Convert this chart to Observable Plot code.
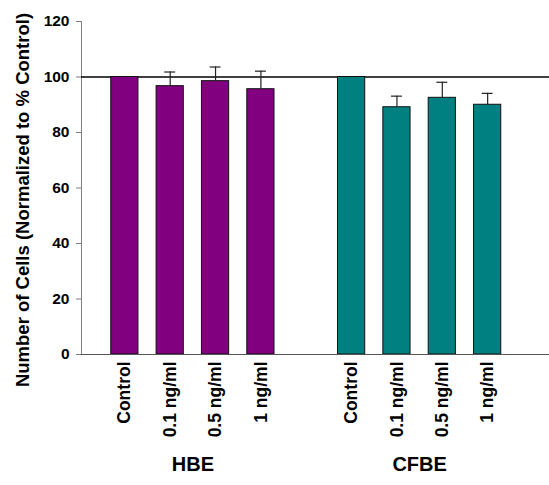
<!DOCTYPE html>
<html>
<head>
<meta charset="utf-8">
<script src="https://cdn.jsdelivr.net/npm/d3@7"></script>
<script src="https://cdn.jsdelivr.net/npm/@observablehq/plot@0.6"></script>
<style>
  html, body { margin: 0; padding: 0; background: #fff; }
</style>
</head>
<body>
<div id="chart"></div>
<script>
// Cell lines and treatment doses
const cellLines = ["HBE", "CFBE"];
const doses = ["Control", "0.1 ng/ml", "0.5 ng/ml", "1 ng/ml"];

// Cell counts, normalized to % of control, with upward error (SD)
const hbeMeans = [100, 96.7, 98.5, 95.6];
const hbeErrors = [0, 5.1, 5.1, 6.5];
const cfbeMeans = [100, 89.1, 92.5, 90.0];
const cfbeErrors = [0, 4.0, 5.6, 4.1];

const yTicks = [0, 20, 40, 60, 80, 100, 120];
const yLabel = "Number of Cells (Normalized to % Control)";
const lineColors = {HBE: "#800080", CFBE: "#008080"};

// One row per bar; each cell line occupies its own group of slots with one empty slot between
const seriesMeans = [hbeMeans, cfbeMeans];
const seriesErrors = [hbeErrors, cfbeErrors];
const rows = cellLines.flatMap((line, g) =>
  doses.map((dose, i) => ({
    line,
    dose,
    pos: g * (doses.length + 1) + i,
    mean: seriesMeans[g][i],
    err: seriesErrors[g][i]
  }))
);
const groups = cellLines.map(line => ({
  line,
  center: d3.mean(rows.filter(r => r.line === line), r => r.pos)
}));
const labelAt = new Map(rows.map(r => [r.pos, r.dose]));

const barHalf = 0.3;
const capHalf = 0.12;
const font = "'Liberation Sans', Arial, sans-serif";

const chart = Plot.plot({
  width: 549,
  height: 485,
  marginLeft: 81,
  marginRight: 0,
  marginTop: 21,
  marginBottom: 131,
  style: {fontFamily: font, background: "#fff", color: "#000"},
  x: {type: "linear", domain: [-1, 9], range: [79, 532.5]},
  y: {domain: [0, 120], range: [354, 21]},
  marks: [
    Plot.frame({anchor: "left", stroke: "#808080"}),
    Plot.ruleY([100], {stroke: "#000", strokeWidth: 1.3}),
    Plot.rectY(rows, {
      x1: d => d.pos - barHalf,
      x2: d => d.pos + barHalf,
      y1: 0,
      y2: "mean",
      fill: d => lineColors[d.line],
      stroke: "#111",
      strokeWidth: 1
    }),
    Plot.ruleX(rows.filter(d => d.err > 0), {
      x: "pos",
      y1: "mean",
      y2: d => d.mean + d.err,
      stroke: "#222",
      strokeWidth: 1.2
    }),
    Plot.ruleY(rows.filter(d => d.err > 0), {
      y: d => d.mean + d.err,
      x1: d => d.pos - capHalf,
      x2: d => d.pos + capHalf,
      stroke: "#222",
      strokeWidth: 1.2
    }),
    Plot.ruleY([0], {stroke: "#555", strokeWidth: 1.2}),
    Plot.axisY({
      ticks: yTicks,
      tickSize: 5,
      tickPadding: 7,
      stroke: "#808080",
      fill: "#000",
      fontSize: 15.5,
      fontWeight: "bold",
      label: null
    }),
    Plot.axisX({
      ticks: rows.map(r => r.pos),
      tickFormat: p => labelAt.get(p),
      tickSize: 0,
      tickPadding: 7,
      tickRotate: -90,
      fontSize: 17.5,
      fontWeight: "bold",
      fill: "#000",
      label: null
    }),
    Plot.text([yLabel], {
      text: d => d,
      frameAnchor: "left",
      textAnchor: "middle",
      rotate: -90,
      dx: -58,
      dy: 12,
      fontSize: 18.5,
      fontWeight: "bold",
      fill: "#000"
    }),
    Plot.text(groups, {
      x: "center",
      text: "line",
      frameAnchor: "bottom",
      dy: 116,
      fontSize: 20,
      fontWeight: "bold",
      fill: "#000"
    })
  ]
});

document.getElementById("chart").appendChild(chart);
</script>
</body>
</html>
